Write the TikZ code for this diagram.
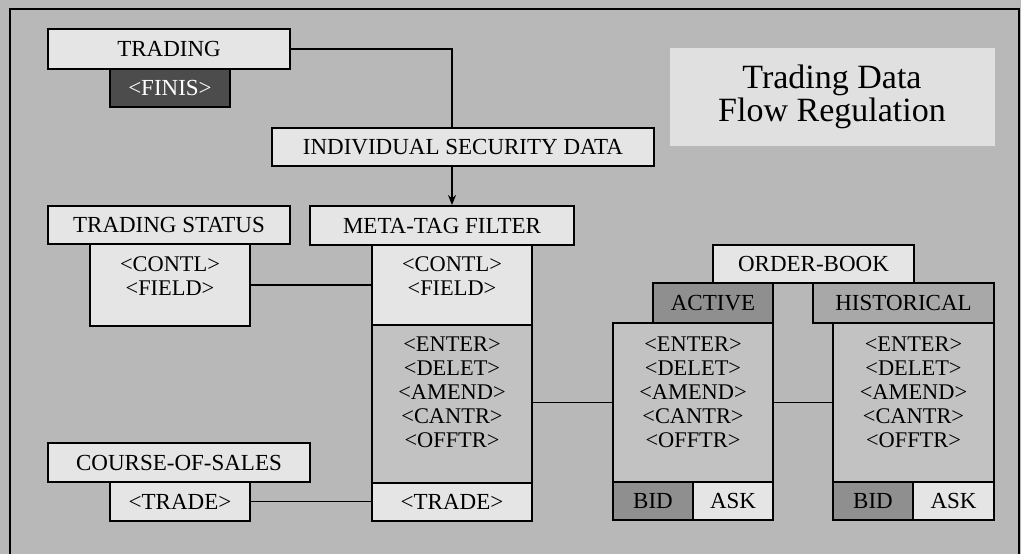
\documentclass[tikz,border=0pt]{standalone}
\usepackage{fontspec}
\setmainfont{Liberation Serif}
\usetikzlibrary{arrows.meta}
\definecolor{bggray}{gray}{0.72}
\definecolor{boxgray}{gray}{0.90}
\definecolor{bodygray}{gray}{0.76}
\definecolor{darkgray}{gray}{0.30}
\definecolor{midgray}{gray}{0.56}
\definecolor{histgray}{gray}{0.66}
\definecolor{titlegray}{gray}{0.88}

\begin{document}
\begin{tikzpicture}[x=0.5pt, y=-0.5pt,
    box/.style={draw, line width=1pt, fill=boxgray, inner sep=0pt,
      font=\fontsize{11.5}{12}\selectfont},
    body/.style={draw, line width=1pt, fill=bodygray, inner sep=0pt},
    entries/.style={align=center, anchor=north, inner sep=0pt,
      font=\fontsize{11.2}{12}\selectfont},
    link/.style={line width=0.9pt}]
    \useasboundingbox (0,0) rectangle (1021,554);
    \fill[bggray] (0,0) rectangle (1021,554);
    \draw[line width=1pt] (10,554) -- (10,9) -- (1019,9) -- (1019,554);

    % title
    \node[fill=titlegray, minimum width=162.5pt, minimum height=49pt,
      align=center, font=\fontsize{17}{14.5}\selectfont] (title) at (832,97)
      {Trading Data\\Flow Regulation};

    % trading
    \node[box, minimum width=121pt, minimum height=20pt] (trading) at (169,49) {TRADING};
    \node[box, fill=darkgray, text=white, minimum width=60pt, minimum height=19pt] (finis) at (170,88) {<FINIS>};

    % individual security data
    \node[box, minimum width=191pt, minimum height=19pt] (isd) at (463,147) {INDIVIDUAL SECURITY DATA};

    % trading status
    \node[box, minimum width=121pt, minimum height=19pt] (status) at (169,225) {TRADING STATUS};
    \node[box, minimum width=80pt, minimum height=41pt] (statusbody) at (170,285) {};
    \node[entries] (statustext) at (170,256) {<CONTL>\\<FIELD>};

    % meta-tag filter
    \node[box, minimum width=132pt, minimum height=19.5pt] (meta) at (442,225.5) {META-TAG FILTER};
    \node[box, minimum width=80pt, minimum height=40pt] (metatop) at (452,285) {};
    \node[entries] (metatoptext) at (452,256) {<CONTL>\\<FIELD>};
    \node[body, minimum width=80pt, minimum height=79pt] (metamid) at (452,404) {};
    \node[entries] (metamidtext) at (452,336) {<ENTER>\\<DELET>\\<AMEND>\\<CANTR>\\<OFFTR>};
    \node[box, minimum width=80pt, minimum height=19pt] (metatrade) at (452,502) {<TRADE>};

    % course-of-sales
    \node[box, minimum width=131pt, minimum height=19.5pt] (cos) at (179,462.5) {COURSE-OF-SALES};
    \node[box, minimum width=70pt, minimum height=19.5pt] (costrade) at (180,501.5) {<TRADE>};

    % order-book
    \node[box, minimum width=100.5pt, minimum height=19pt] (orderbook) at (813.5,264) {ORDER-BOOK};
    \node[box, fill=midgray, minimum width=60pt, minimum height=20pt] (active) at (713,303) {ACTIVE};
    \node[box, fill=histgray, minimum width=90.5pt, minimum height=20pt] (historical) at (903.5,303) {HISTORICAL};

    \node[body, minimum width=80pt, minimum height=79.5pt] (actbody) at (693,402.5) {};
    \node[entries] (acttext) at (693,336) {<ENTER>\\<DELET>\\<AMEND>\\<CANTR>\\<OFFTR>};
    \node[box, fill=midgray, minimum width=40pt, minimum height=19pt] (actbid) at (653,501) {BID};
    \node[box, minimum width=40pt, minimum height=19pt] (actask) at (733,501) {ASK};

    \node[body, minimum width=80.5pt, minimum height=79.5pt] (hisbody) at (913.5,402.5) {};
    \node[entries] (histext) at (913.5,336) {<ENTER>\\<DELET>\\<AMEND>\\<CANTR>\\<OFFTR>};
    \node[box, fill=midgray, minimum width=40pt, minimum height=19pt] (hisbid) at (873,501) {BID};
    \node[box, minimum width=40.5pt, minimum height=19pt] (hisask) at (953.5,501) {ASK};

    % connectors
    \draw[link] (trading.east) -| (isd.north -| metatop.north);
    \draw[link, -{Stealth[length=5pt, width=4pt]}] (isd.south -| metatop.north) -- (meta.north -| metatop.north);
    \draw[link] (statusbody.east) -- (metatop.west);
    \draw[link] (costrade.east) -- (costrade.east -| metatrade.west);
    \draw[link] (actbody.west -| metamid.east) -- (actbody.west);
    \draw[link] (actbody.east) -- (hisbody.west);
  \end{tikzpicture}
\end{document}
